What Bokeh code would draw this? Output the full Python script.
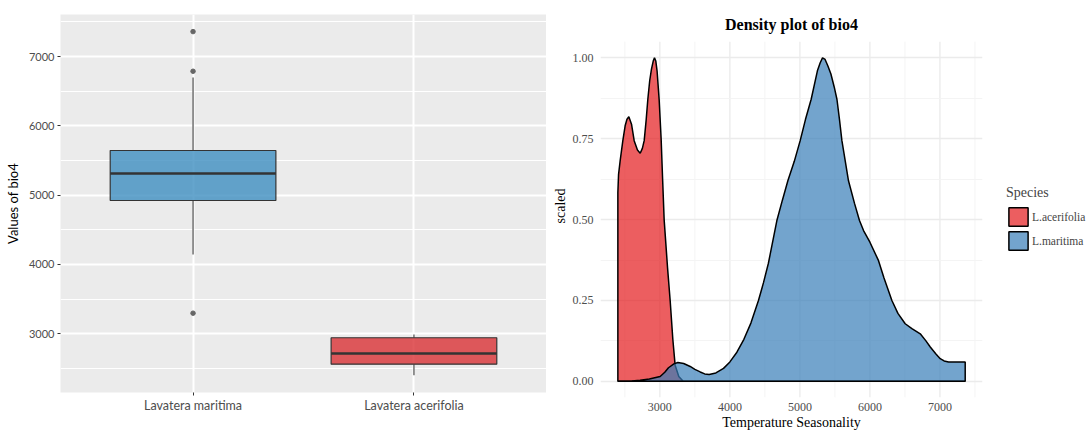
from bokeh.plotting import figure
from bokeh.layouts import row
from bokeh.models import (Range1d, FixedTicker, Legend, LegendItem, PrintfTickFormatter, Label)
from bokeh.embed import file_html
from bokeh.resources import INLINE

# ---------------- data: boxplot of bio4 ----------------
categories = ["Lavatera maritima", "Lavatera acerifolia"]
box_lower = [4144, 2400]
box_q1 = [4923, 2561]
box_median = [5313, 2716]
box_q3 = [5645, 2942]
box_upper = [6698, 2990]
box_colors = ["#3F8EC0", "#DA3236"]
outlier_cat = ["Lavatera maritima", "Lavatera maritima", "Lavatera maritima"]
outlier_values = [7361, 6789, 3297]

# ---------------- data: scaled density of bio4 ----------------
acer_x = [2400, 2410, 2433, 2471, 2504, 2530, 2557, 2595, 2633, 2680, 2719, 2750,
          2776, 2805, 2828, 2855, 2880, 2905, 2923, 2942, 2960, 2990, 3018, 3040,
          3061, 3110, 3147, 3185, 3218, 3270, 3333]
acer_y = [0.584, 0.64, 0.682, 0.744, 0.79, 0.81, 0.818, 0.795, 0.744, 0.715, 0.705, 0.72,
          0.744, 0.81, 0.872, 0.93, 0.965, 0.99, 1.0, 0.99, 0.96, 0.87, 0.75, 0.62,
          0.5, 0.35, 0.25, 0.13, 0.05, 0.015, 0.0]
mari_x = [2400, 2600, 2718, 2850, 3004, 3070, 3123, 3200, 3257, 3340, 3433, 3500, 3576,
          3640, 3704, 3800, 3909, 4000, 4100, 4200, 4300, 4408, 4480, 4550, 4671, 4750, 4828,
          4920, 5004, 5080, 5161, 5250, 5290, 5323, 5360, 5400, 5443, 5490, 5529, 5565,
          5600, 5694, 5780, 5851, 5909, 6000, 6123, 6200, 6314, 6400, 6504, 6600, 6719,
          6800, 6862, 6940, 7004, 7060, 7123, 7250, 7361]
mari_y = [0.0, 0.001, 0.003, 0.007, 0.015, 0.028, 0.042, 0.054, 0.058, 0.055, 0.046, 0.037, 0.029,
          0.023, 0.021, 0.026, 0.04, 0.06, 0.09, 0.13, 0.18, 0.25, 0.305, 0.365, 0.497, 0.56, 0.62,
          0.68, 0.744, 0.81, 0.872, 0.96, 0.985, 1.0, 0.995, 0.975, 0.95, 0.91, 0.872, 0.81,
          0.744, 0.62, 0.55, 0.497, 0.466, 0.43, 0.373, 0.32, 0.25, 0.21, 0.178, 0.163, 0.147,
          0.125, 0.106, 0.085, 0.07, 0.063, 0.06, 0.06, 0.06]
species = ["L.acerifolia", "L.maritima"]
species_colors = ["#E41A1C", "#377EB8"]

x_major = [3000, 4000, 5000, 6000, 7000]
x_minor = [2500, 3500, 4500, 5500, 6500, 7500]
y_major = [0, 0.25, 0.5, 0.75, 1.0]
y_minor = [0.125, 0.375, 0.625, 0.875]

# ================= left: boxplot =================
p1 = figure(frame_width=486, frame_height=378, x_range=Range1d(0.4, 2.6),
            y_range=Range1d(2152, 7608), output_backend="svg", toolbar_location=None,
            min_border_left=60, min_border_right=0, min_border_top=14, min_border_bottom=38)
p1.background_fill_color = "#EBEBEB"
p1.border_fill_color = "white"
p1.outline_line_color = None

pos = [i + 1 for i in range(len(categories))]
half = 0.375

p1.xaxis.ticker = FixedTicker(ticks=pos)
p1.xaxis.major_label_overrides = {k: c for k, c in zip(pos, categories)}
p1.yaxis.ticker = FixedTicker(ticks=x_major, minor_ticks=x_minor)
p1.xgrid.grid_line_color = "white"
p1.xgrid.grid_line_width = 2
p1.ygrid.grid_line_color = "white"
p1.ygrid.grid_line_width = 2
p1.ygrid.minor_grid_line_color = "white"
p1.ygrid.minor_grid_line_width = 1
for ax in (p1.xaxis[0], p1.yaxis[0]):
    ax.axis_line_color = None
    ax.major_tick_line_color = "#333333"
    ax.major_tick_out = 3
    ax.major_tick_in = 0
    ax.minor_tick_out = 0
    ax.minor_tick_in = 0
    ax.major_label_text_color = "#4D4D4D"
    ax.major_label_text_font = "Lato"
    ax.axis_label_text_font = "Lato"
    ax.axis_label_text_font_style = "normal"
    ax.axis_label_text_color = "black"
p1.yaxis.major_label_text_font_size = "11px"
p1.xaxis.major_label_text_font_size = "12.5px"
p1.yaxis.axis_label = "Values of bio4"
p1.yaxis.axis_label_text_font_size = "13px"
p1.yaxis.major_label_standoff = 3
p1.xaxis.major_label_standoff = 2

# whiskers
p1.segment(x0=pos, y0=box_q3, x1=pos, y1=box_upper, line_color="#4D4D4D", line_width=1.2)
p1.segment(x0=pos, y0=box_lower, x1=pos, y1=box_q1, line_color="#4D4D4D", line_width=1.2)
# boxes
p1.quad(left=[x - half for x in pos], right=[x + half for x in pos], bottom=box_q1, top=box_q3,
        fill_color=box_colors, fill_alpha=0.8, line_color="#333333", line_width=1.2)
# medians
p1.segment(x0=[x - half for x in pos], y0=box_median, x1=[x + half for x in pos], y1=box_median,
           line_color="#333333", line_width=2.5)
# outliers
out_pos = [pos[categories.index(c)] for c in outlier_cat]
p1.scatter(x=out_pos, y=outlier_values, size=4.5, fill_color="#666666", line_color="#666666")

# ================= right: density =================
panel_bottom, panel_top = -0.05, 1.05
p2 = figure(frame_width=382, frame_height=383, x_range=Range1d(2152, 7608),
            y_range=Range1d(panel_bottom, 1.134), output_backend="svg", toolbar_location=None,
            min_border_left=54, min_border_right=105, min_border_top=14, min_border_bottom=33)
p2.outline_line_color = None
p2.background_fill_color = "white"

p2.xaxis.ticker = FixedTicker(ticks=x_major, minor_ticks=x_minor)
p2.yaxis.ticker = FixedTicker(ticks=y_major, minor_ticks=y_minor)
p2.yaxis.formatter = PrintfTickFormatter(format="%.2f")
p2.xgrid.grid_line_color = None
p2.xgrid.minor_grid_line_color = None
p2.ygrid.grid_line_color = "#EBEBEB"
p2.ygrid.grid_line_width = 1.3
p2.ygrid.minor_grid_line_color = "#F3F3F3"
p2.ygrid.minor_grid_line_width = 0.9
# vertical grid lines limited to the panel
p2.segment(x0=x_minor, y0=[panel_bottom] * len(x_minor), x1=x_minor, y1=[panel_top] * len(x_minor),
           line_color="#F3F3F3", line_width=0.9, level="underlay")
p2.segment(x0=x_major, y0=[panel_bottom] * len(x_major), x1=x_major, y1=[panel_top] * len(x_major),
           line_color="#EBEBEB", line_width=1.3, level="underlay")

for ax in (p2.xaxis[0], p2.yaxis[0]):
    ax.axis_line_color = None
    ax.major_tick_line_color = None
    ax.minor_tick_line_color = None
    ax.major_tick_out = 0
    ax.major_tick_in = 0
    ax.minor_tick_out = 0
    ax.minor_tick_in = 0
    ax.major_label_text_color = "#4D4D4D"
    ax.major_label_text_font = "Liberation Serif"
    ax.major_label_text_font_size = "12px"
    ax.axis_label_text_font = "Liberation Serif"
    ax.axis_label_text_font_size = "14px"
    ax.axis_label_text_font_style = "normal"
    ax.axis_label_text_color = "black"
p2.xaxis.axis_label = "Temperature Seasonality"
p2.yaxis.axis_label = "scaled"
p2.yaxis.major_label_standoff = 7
p2.yaxis.axis_label_standoff = 2
p2.xaxis.major_label_standoff = 5
p2.xaxis.axis_label_standoff = 1

title = Label(x=(2152 + 7608) / 2, y=1.103, text="Density plot of bio4", text_align="center",
              text_baseline="middle", text_font="Liberation Serif", text_font_size="16px",
              text_font_style="bold", text_color="black")
p2.add_layout(title)

acer_px = [acer_x[0]] + acer_x + [mari_x[-1]]
acer_py = [0] + acer_y + [0]
mari_px = mari_x + [mari_x[-1]]
mari_py = mari_y + [0]

r1 = p2.patch(x=acer_px, y=acer_py, fill_color=species_colors[0], fill_alpha=0.7,
              line_color="black", line_width=1.5)
r2 = p2.patch(x=mari_px, y=mari_py, fill_color=species_colors[1], fill_alpha=0.7,
              line_color="black", line_width=1.5)

legend = Legend(items=[LegendItem(label=species[0], renderers=[r1]),
                       LegendItem(label=species[1], renderers=[r2])],
                title="Species", location=(24, 145))
legend.background_fill_alpha = 0
legend.border_line_color = None
legend.glyph_width = 24
legend.glyph_height = 23
legend.spacing = 1
legend.padding = 0
legend.margin = 0
legend.label_standoff = 2
legend.label_text_font = "Liberation Serif"
legend.label_text_font_size = "11.5px"
legend.title_text_font = "Liberation Serif"
legend.title_text_font_size = "14px"
legend.title_text_font_style = "normal"
legend.title_standoff = 4
p2.add_layout(legend, "right")

layout = row(p1, p2, spacing=0)
open("out.html", "w").write(file_html(layout, INLINE))
